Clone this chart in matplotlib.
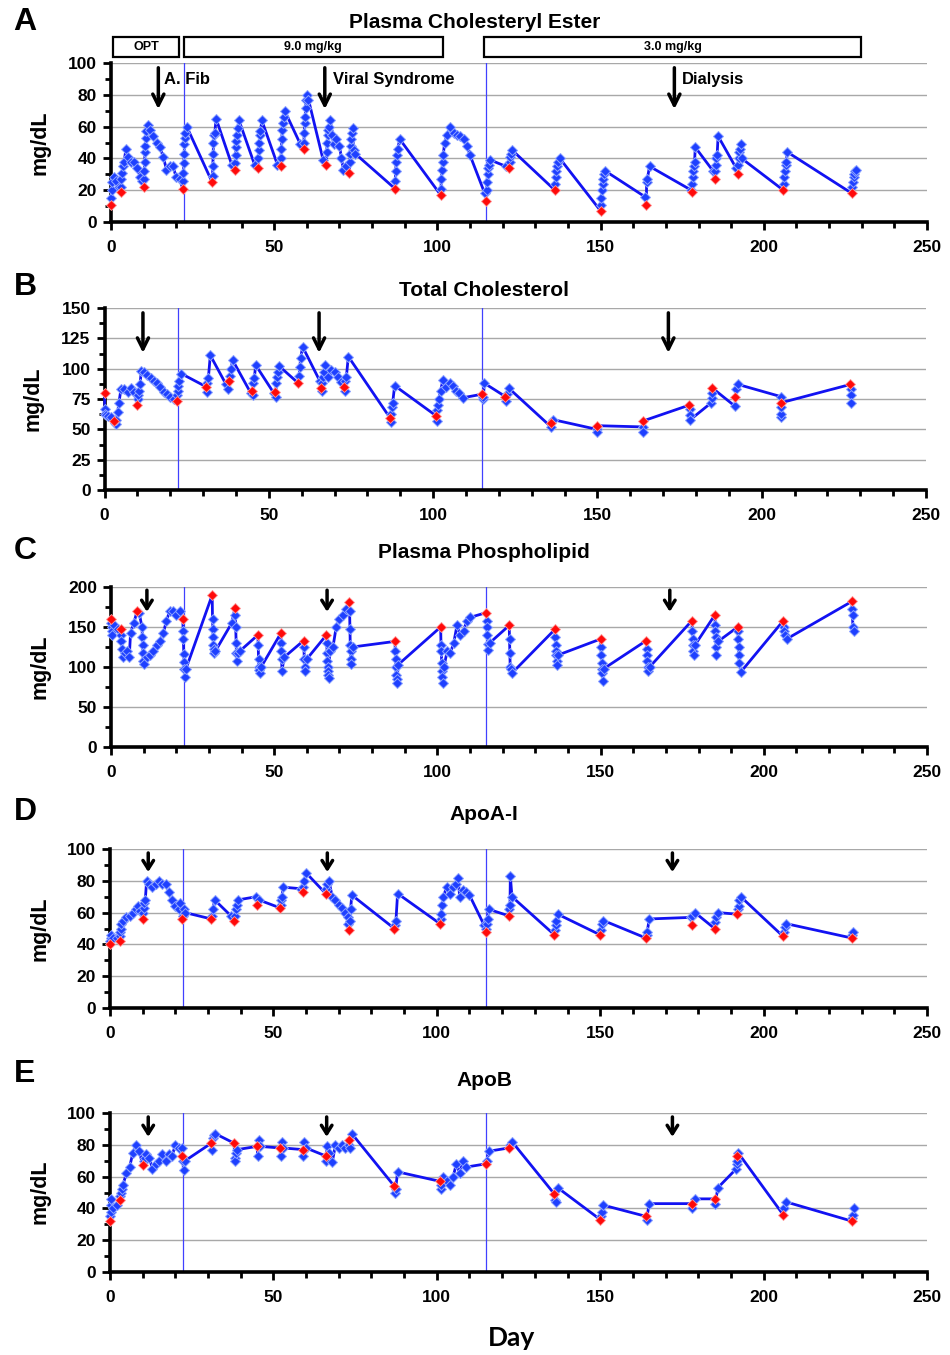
import matplotlib.pyplot as plt
import numpy as np
from matplotlib.patches import Rectangle
from matplotlib.ticker import MultipleLocator

plt.rcParams['font.family'] = ['Liberation Sans', 'DejaVu Sans']
plt.rcParams['font.weight'] = 'bold'

W, H = 950, 1355

# dose days (red = pre-dose sample)
dose_days = [0, 3, 10, 22, 31, 38, 45, 52, 59, 66, 73, 87, 101, 115, 122, 136,
             150, 164, 178, 185, 192, 206, 227]
dose_days_pl = [0, 3, 8, 22, 31, 38, 45, 52, 59, 66, 73, 87, 101, 115, 122, 136,
                150, 164, 178, 185, 192, 206, 227]

# A - plasma cholesteryl ester
ce_days = [0.1, 0.2, 0.4, 1, 1.5, 2.5,
           3.1, 3.2, 3.4, 3.6, 4, 4.6, 5.2, 6, 7, 8, 9, 9.5,
           10.1, 10.2, 10.3, 10.4, 10.5, 10.6, 10.8, 11.2, 12, 13, 14, 15, 16, 17, 18, 19, 20, 21,
           22.1, 22.2, 22.3, 22.4, 22.5, 22.6, 22.8, 23.2,
           31.1, 31.2, 31.3, 31.4, 31.6, 31.8, 32.2, 37,
           38.1, 38.2, 38.3, 38.4, 38.6, 38.8, 39.2, 44,
           45.1, 45.2, 45.4, 45.6, 45.8, 46.2, 51,
           52.1, 52.2, 52.3, 52.5, 52.7, 52.9, 53.2, 58,
           59.1, 59.2, 59.3, 59.5, 59.6, 59.8, 60, 60.5, 65,
           66.1, 66.2, 66.4, 66.6, 66.8, 67.2, 67.8, 68.2, 69, 70, 70.6, 71.2, 72,
           73.1, 73.2, 73.4, 73.6, 73.8, 74, 74.3, 74.8,
           87.1, 87.2, 87.4, 87.6, 87.8, 88.5,
           101.1, 101.2, 101.4, 101.6, 101.8, 102.2, 103, 104, 105, 106, 107, 108, 109, 110, 114.5,
           115.1, 115.2, 115.4, 115.6, 115.8, 116.2, 121,
           122.1, 122.3, 122.6, 123,
           136.1, 136.2, 136.4, 136.6, 136.8, 137.5,
           150.1, 150.2, 150.4, 150.6, 150.8, 151, 151.5, 163.5,
           164.1, 164.3, 165, 177.8,
           178.1, 178.2, 178.4, 178.6, 178.8, 179, 184.5,
           185.1, 185.3, 185.5, 185.7, 186, 191.5,
           192.1, 192.3, 192.5, 192.7, 192.9, 193.2,
           206.1, 206.3, 206.5, 206.7, 206.9, 207.2,
           227.1, 227.3, 227.5, 227.7, 227.9, 228.2]
ce_vals = [15, 20, 25, 28, 26, 22,
           22, 27, 31, 35, 38, 46, 41, 38, 38, 34, 28, 26,
           27, 32, 38, 44, 48, 53, 57, 61, 58, 54, 50, 47, 41, 33, 35, 35, 28, 27,
           26, 31, 37, 43, 49, 53, 56, 60,
           29, 35, 43, 50, 55, 56, 65, 36,
           37, 42, 47, 51, 55, 59, 64, 36,
           40, 45, 50, 55, 57, 64, 36,
           40, 46, 52, 58, 62, 66, 70, 49,
           50, 56, 62, 66, 72, 77, 80, 77, 39,
           44, 50, 55, 58, 60, 64, 55, 49, 52, 48, 40, 33, 35,
           38, 43, 48, 52, 56, 59, 45, 43,
           26, 32, 38, 42, 46, 52,
           21, 27, 33, 38, 42, 50, 55, 60, 56, 55, 54, 52, 48, 42, 18,
           20, 25, 30, 34, 36, 39, 35,
           38, 41, 43, 45,
           24, 28, 32, 35, 38, 40,
           11, 15, 20, 24, 27, 30, 32, 16,
           25, 27, 35, 20,
           24, 28, 32, 35, 38, 47, 32,
           32, 36, 40, 42, 54, 34,
           36, 40, 44, 46, 49, 40,
           24, 28, 32, 36, 38, 44,
           22, 25, 28, 30, 32, 33]
ce_red = [11, 19, 22, 21, 25, 33, 34, 35, 46, 36, 31, 21, 17, 13, 34, 20, 7, 11, 19, 27, 30, 20, 18]

# B - total cholesterol
tc_days = [0.1, 0.2, 0.4, 1, 2,
           3.2, 3.4, 3.6, 4, 4.4, 5, 6, 7, 8, 9,
           10.1, 10.3, 10.5, 10.8, 11.2, 12, 13, 14, 15, 16, 17, 18, 19, 20, 21,
           22.1, 22.3, 22.5, 22.8, 23.3,
           31.1, 31.3, 31.6, 32.2, 37, 37.5,
           38.2, 38.5, 39, 44.5,
           45.1, 45.3, 45.6, 46, 51.5,
           52.1, 52.3, 52.5, 52.7, 53.2,
           59.2, 59.4, 59.7, 60.3, 65.5,
           66.1, 66.3, 66.5, 66.7, 67.2, 68, 69, 70, 71, 72,
           73.1, 73.3, 73.6, 74.2,
           87.1, 87.3, 87.5, 87.7, 88.3,
           101.1, 101.3, 101.5, 101.7, 102.3, 103, 104, 105, 106, 107, 108, 109,
           115.1, 115.3, 115.6,
           122.1, 122.4, 123,
           135.9, 136.5,
           149.8, 149.9,
           163.8, 163.9,
           178.1, 178.2, 178.3,
           184.7, 184.8, 184.9,
           191.9, 192.3, 192.8,
           205.8, 205.85, 205.9, 205.95,
           227.1, 227.2, 227.3]
tc_vals = [67, 63, 62, 61, 60,
           55, 54, 58, 64, 72, 83, 83, 81, 84, 81,
           75, 78, 82, 87, 98, 97, 95, 92, 90, 88, 85, 81, 79, 77, 75,
           78, 82, 86, 90, 96,
           81, 88, 92, 111, 87, 83,
           94, 100, 107, 80,
           78, 88, 92, 103, 80,
           77, 88, 93, 97, 102,
           94, 101, 109, 118, 90,
           82, 88, 93, 97, 103, 93, 99, 97, 93, 89,
           82, 90, 93, 110,
           56, 63, 68, 72, 86,
           57, 66, 70, 75, 82, 91, 85, 88, 86, 82, 80, 76,
           75, 77, 88,
           73, 79, 84,
           52, 58,
           50, 48,
           52, 48,
           67, 62, 58,
           72, 76, 80,
           69, 83, 87,
           77, 60, 63, 68,
           83, 78, 72]
tc_red = [80, 57, 70, 73, 85, 90, 82, 81, 88, 84, 85, 59, 61, 79, 77, 55, 53, 57, 70, 84, 77, 72, 87]

# C - plasma phospholipid
pl_days = [0.1, 0.2, 0.3, 0.4, 1, 2,
           3.1, 3.2, 3.4, 3.6, 4.2, 5, 5.6, 6, 7,
           8.6, 9.5, 9.6, 9.7, 9.8, 9.9, 10, 11, 12, 13, 14, 15, 16, 17, 18, 19, 20, 21,
           22.1, 22.2, 22.3, 22.4, 22.5, 22.6, 23,
           31.1, 31.2, 31.3, 31.4, 31.5, 31.7, 32, 37,
           38.1, 38.2, 38.3, 38.4, 38.5, 39, 39.5,
           45.1, 45.2, 45.3, 45.4, 45.5, 46,
           52.1, 52.2, 52.3, 52.4, 53,
           59.1, 59.2, 59.3, 59.4, 60,
           66.1, 66.2, 66.3, 66.4, 66.5, 66.6, 66.7, 67, 68, 69, 70, 71, 72,
           73.1, 73.2, 73.3, 73.4, 73.5, 73.6, 74,
           87.1, 87.2, 87.3, 87.4, 87.5, 87.6, 88,
           101.1, 101.2, 101.3, 101.4, 101.5, 101.6, 102, 103, 104, 105, 106, 107, 108, 109, 110,
           115.1, 115.2, 115.3, 115.4, 115.5, 116,
           122.1, 122.2, 122.3, 122.4, 123,
           136.1, 136.2, 136.3, 136.4, 136.5, 136.6, 137,
           150.1, 150.2, 150.3, 150.4, 150.5, 150.6, 151,
           164.1, 164.2, 164.3, 164.4, 164.5, 165,
           178.1, 178.2, 178.3, 178.4, 178.5, 179,
           185.1, 185.2, 185.3, 185.4, 185.5, 186,
           192.1, 192.2, 192.3, 192.4, 192.5, 193,
           206.1, 206.2, 206.4, 207,
           227.1, 227.2, 227.3, 227.5]
pl_vals = [155, 150, 145, 140, 152, 148,
           140, 132, 122, 112, 118, 120, 113, 143, 155,
           168, 150, 138, 128, 118, 108, 104, 112, 115, 120, 127, 133, 142, 158, 170, 170, 165, 170,
           145, 135, 116, 106, 97, 88, 98,
           160, 148, 138, 128, 122, 118, 120, 155,
           165, 150, 130, 118, 108, 118, 120,
           128, 110, 100, 96, 93, 100,
           130, 120, 110, 95, 112,
           125, 110, 100, 95, 110,
           130, 118, 108, 100, 95, 90, 86, 120, 125, 150, 160, 165, 172,
           170, 147, 128, 120, 110, 104, 125,
           120, 110, 100, 90, 85, 80, 103,
           128, 120, 105, 95, 88, 80, 100, 120, 118, 130, 152, 140, 145, 158, 162,
           158, 150, 140, 129, 121, 130,
           135, 118, 100, 97, 93,
           137, 128, 120, 115, 108, 102, 115,
           125, 115, 105, 98, 92, 82, 98,
           122, 115, 108, 100, 95, 100,
           145, 135, 128, 120, 115, 128,
           153, 145, 138, 125, 115, 132,
           145, 135, 125, 115, 105, 94,
           150, 145, 140, 135,
           172, 165, 150, 145]
pl_red = [160, 147, 170, 160, 190, 174, 140, 142, 133, 140, 181, 132, 150, 168, 152, 147, 135, 133,
          158, 165, 150, 158, 182]

# D - ApoA-I
a1_days = [0.1, 0.2, 0.3, 1, 2,
           3.1, 3.2, 3.3, 3.5, 4, 5, 6, 7, 8, 8.5, 9.2,
           10.1, 10.3, 10.5, 10.8, 11.2, 12, 13, 14, 15, 16, 17, 18, 19, 20, 21, 21.5,
           22.2, 22.5, 23,
           31.2, 31.5, 32, 37,
           38.2, 38.5, 38.8, 39.2, 44.8,
           45.5,
           52.2, 52.4, 52.6, 53, 58.5,
           59.2, 59.5, 60,
           66.2, 66.5, 67, 68, 69, 70, 71, 72, 72.7, 72.9,
           73.3, 73.6, 74,
           87.2, 87.5, 88,
           101.2, 101.4, 101.6, 102, 103, 104, 105, 106, 106.5, 107, 108, 109, 110, 114.5,
           115.2, 115.4, 115.6, 116,
           122.2, 122.4, 122.5, 123,
           136.2, 136.4, 136.6, 137,
           150.2, 150.4, 151,
           164.2, 164.4, 165, 177.8,
           178.2, 179,
           185.2, 185.4, 186,
           192.2, 192.4, 192.6, 193,
           206.2, 206.4, 207,
           227.2, 227.5]
a1_vals = [42, 44, 46, 44, 44,
           45, 48, 50, 53, 55, 57, 58, 60, 62, 64, 61,
           60, 63, 66, 68, 80, 78, 76, 78, 80, 78, 78, 73, 68, 64, 62, 66,
           58, 62, 60,
           58, 62, 68, 58,
           58, 62, 65, 68, 70,
           68,
           65, 68, 70, 76, 75,
           76, 80, 85,
           75, 78, 80, 70, 68, 65, 63, 60, 57, 53,
           55, 62, 71,
           52, 55, 72,
           56, 59, 65, 70, 76, 72, 76, 78, 82, 70, 74, 73, 71, 52,
           50, 53, 56, 62,
           62, 65, 83, 70,
           49, 52, 55, 59,
           49, 53, 55,
           46, 48, 56, 57,
           58, 60,
           54, 57, 60,
           62, 64, 68, 70,
           48, 51, 53,
           46, 48]
a1_red = [40, 42, 56, 56, 56, 55, 65, 63, 73, 72, 49, 50, 53, 48, 58, 46, 46, 44, 52, 50, 59, 45, 44]

# E - ApoB
b_days = [0.1, 0.2, 0.3, 0.4, 1, 2,
          3.2, 3.4, 3.6, 4, 5, 6, 7, 8, 9,
          10.3, 10.6, 11, 12, 13, 14, 15, 16, 17, 18, 19, 20, 21,
          22.1, 22.3, 22.5, 23,
          31.2, 31.4, 31.7, 32.2,
          38.1, 38.3, 38.6, 39,
          45.2, 45.5, 46,
          52.2, 52.5, 53,
          59.2, 59.5, 60,
          66.2, 66.4, 67, 68, 69, 70, 71, 72,
          73.2, 73.4, 74,
          87.2, 87.4, 88,
          101.2, 101.4, 102, 103, 104, 105, 106, 107, 108, 109,
          115.3, 116,
          122.3, 123,
          136.2, 136.4, 137,
          150.2, 150.4, 151,
          164.2, 165,
          178.2, 179,
          185.2, 186,
          191.7, 191.8, 191.9, 192.2,
          206.2, 207,
          227.2, 227.4, 227.7]
b_vals = [35, 38, 42, 46, 40, 42,
          48, 50, 52, 55, 62, 66, 75, 80, 76,
          70, 72, 74, 72, 65, 68, 70, 74, 70, 74, 73, 80, 78,
          78, 70, 64, 70,
          77, 84, 86, 87,
          72, 70, 75, 77,
          73, 83, 79,
          73, 82, 78,
          73, 82, 78,
          70, 79, 75, 69, 80, 78, 80, 78,
          80, 78, 87,
          50, 52, 63,
          52, 55, 60, 57, 55, 60, 68, 62, 70, 66,
          70, 76,
          80, 82,
          45, 44, 53,
          35, 38, 42,
          33, 43,
          40, 46,
          43, 53,
          65, 68, 70, 75,
          40, 44,
          34, 36, 40]
b_red = [32, 45, 67, 73, 81, 81, 79, 78, 77, 73, 83, 54, 57, 68, 78, 49, 33, 35, 43, 46, 73, 36, 32]

LINE = '#1212f2'
BLUE = '#1e40ff'
EDGE = '#8ea4ff'


def px_axes(fig, left, right, top, bottom):
    return fig.add_axes([left / W, 1 - bottom / H, (right - left) / W, (bottom - top) / H])


def draw_panel(ax, days, vals, rdays, rvals, ymax, ystep, arrow_x, arrow_y, head):
    d = np.concatenate([np.array(days, float), np.array(rdays, float)])
    v = np.concatenate([np.array(vals, float), np.array(rvals, float)])
    order = np.argsort(d, kind='stable')
    ax.axvline(22.3, color='#4040ff', lw=0.9, zorder=1)
    ax.axvline(115, color='#4040ff', lw=0.9, zorder=1)
    ax.plot(d[order], v[order], color=LINE, lw=2.0, zorder=3, clip_on=False)
    ax.plot(days, vals, 'D', ms=5.2, mfc=BLUE, mec=EDGE, mew=0.7, ls='none', zorder=4,
            clip_on=False)
    ax.plot(rdays, rvals, 'D', ms=5.2, mfc='#ff0a0a', mec='#ff9a9a', mew=0.6, ls='none',
            zorder=5, clip_on=False)

    ax.set_xlim(0, 250)
    ax.set_ylim(0, ymax)
    ax.xaxis.set_major_locator(MultipleLocator(50))
    ax.xaxis.set_minor_locator(MultipleLocator(10))
    ax.yaxis.set_major_locator(MultipleLocator(ystep))
    ax.yaxis.set_minor_locator(MultipleLocator(ystep / 2))
    ax.yaxis.grid(True, color='#a8a8a8', lw=1.0)
    ax.set_axisbelow(True)
    for s in ['top', 'right']:
        ax.spines[s].set_visible(False)
    for s in ['left', 'bottom']:
        ax.spines[s].set_linewidth(2.6)
    ax.tick_params(which='major', direction='out', length=6, width=2, labelsize=12.5)
    ax.tick_params(which='minor', direction='out', length=4, width=2)
    ax.tick_params(axis='x', pad=7)
    ax.tick_params(axis='y', pad=4)
    for lab in ax.get_xticklabels() + ax.get_yticklabels():
        lab.set_fontweight('bold')

    hl, hw = head
    for x in arrow_x:
        ax.annotate('', xy=(x, arrow_y[1]), xytext=(x, arrow_y[0]),
                    arrowprops=dict(arrowstyle=f'->,head_length={hl},head_width={hw}',
                                    lw=2.5, color='black', shrinkA=0, shrinkB=0),
                    annotation_clip=False, zorder=6)


fig = plt.figure(figsize=(W / 100, H / 100), dpi=100)

axA = px_axes(fig, 111, 927, 63, 222)
draw_panel(axA, ce_days, ce_vals, dose_days, ce_red, 100, 20, [14.5, 65.5, 172.6], (97, 71), (0.8, 0.4))
axB = px_axes(fig, 104.5, 926, 308, 490)
draw_panel(axB, tc_days, tc_vals, dose_days, tc_red, 150, 25, [11.7, 65.3, 171.6], (146, 113), (0.8, 0.4))
axC = px_axes(fig, 111, 927, 587, 747)
draw_panel(axC, pl_days, pl_vals, dose_days_pl, pl_red, 200, 50, [11, 66.2, 171.2], (196, 169), (0.6, 0.38))
axD = px_axes(fig, 110, 927, 849, 1008)
draw_panel(axD, a1_days, a1_vals, dose_days, a1_red, 100, 20, [11.7, 66.5, 172.1], (97.5, 85.5), (0.6, 0.38))
axE = px_axes(fig, 110, 927, 1113, 1272)
draw_panel(axE, b_days, b_vals, dose_days, b_red, 100, 20, [11.7, 66.3, 172.1], (97.5, 85), (0.6, 0.38))

# treatment boxes and event labels (panel A)
boxes = [(0.6, 20.8, 'OPT'), (22.3, 101.6, '9.0 mg/kg'), (114.4, 229.8, '3.0 mg/kg')]
for x0, x1, txt in boxes:
    axA.add_patch(Rectangle((x0, 103.8), x1 - x0, 12.6, fill=False, lw=1.6,
                            edgecolor='black', clip_on=False))
    axA.text((x0 + x1) / 2, 110.1, txt, ha='center', va='center', fontsize=9, fontweight='bold')
events = [(16.2, 'A. Fib'), (68, 'Viral Syndrome'), (175, 'Dialysis')]
for x, txt in events:
    axA.text(x, 89.5, txt, ha='left', va='center', fontsize=12, fontweight='bold')

# titles, panel letters, axis labels
titles = [(475, 22, 'Plasma Cholesteryl Ester'), (484, 290, 'Total Cholesterol'),
          (484, 553, 'Plasma Phospholipid'), (484, 815, 'ApoA-I'), (484, 1080, 'ApoB')]
for x, y, txt in titles:
    fig.text(x / W, 1 - y / H, txt, ha='center', va='center', fontsize=15, fontweight='bold')
letters = [(25, 22, 'A'), (25, 287, 'B'), (25, 551, 'C'), (25, 812, 'D'), (25, 1074, 'E')]
for x, y, txt in letters:
    fig.text(x / W, 1 - y / H, txt, ha='center', va='center', fontsize=23, fontweight='bold')
ylab = [(40, 143), (33, 399), (40, 667), (40, 929), (40, 1192)]
for x, y in ylab:
    fig.text(x / W, 1 - y / H, 'mg/dL', ha='center', va='center', rotation=90,
             fontsize=15.5, fontweight='bold')
fig.text(512 / W, 1 - 1338 / H, 'Day', ha='center', va='center', fontsize=19,
         fontweight='bold', family=['Lato', 'DejaVu Sans'])

fig.savefig('out.png', dpi=100)
